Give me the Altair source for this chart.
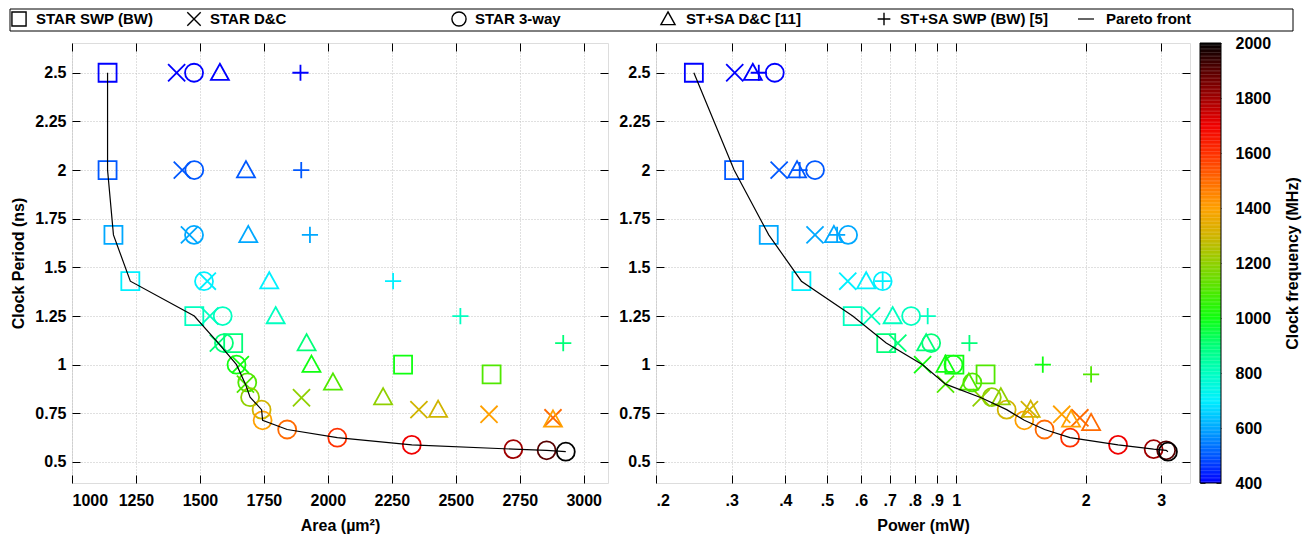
import altair as alt
import pandas as pd

FONT = "Liberation Sans, Arial, Helvetica, sans-serif"

SERIES = ["STAR SWP (BW)", "STAR D&C", "STAR 3-way", "ST+SA D&C [11]", "ST+SA SWP (BW) [5]"]

# STAR SWP (BW)
swp_freq = [400, 500, 600, 700, 800, 900, 1000, 1100]
swp_period = [2.5, 2.0, 1.667, 1.429, 1.25, 1.111, 1.0, 0.95]
swp_area = [1139, 1139, 1162, 1228, 1478, 1630, 2294, 2640]
swp_power = [0.245, 0.304, 0.366, 0.436, 0.574, 0.687, 0.99, 1.17]

# STAR D&C
dc_freq = [400, 500, 600, 700, 800, 900, 1000, 1100, 1200, 1300, 1400, 1500]
dc_period = [2.5, 2.0, 1.667, 1.429, 1.25, 1.111, 1.0, 0.9, 0.83, 0.769, 0.745, 0.727]
dc_area = [1409, 1431, 1459, 1529, 1539, 1572, 1658, 1678, 1897, 2356, 2630, 2880]
dc_power = [0.305, 0.387, 0.469, 0.559, 0.635, 0.731, 0.835, 0.944, 1.143, 1.48, 1.76, 1.94]

# STAR 3-way
w3_freq = [400, 500, 600, 700, 800, 900, 1000, 1100, 1200, 1300, 1400, 1500, 1600, 1700, 1800, 1900, 2000]
w3_period = [2.5, 2.0, 1.667, 1.429, 1.25, 1.111, 1.0, 0.909, 0.833, 0.769, 0.714, 0.667, 0.625, 0.588, 0.566, 0.560, 0.553]
w3_area = [1477, 1478, 1477, 1516, 1589, 1594, 1643, 1685, 1696, 1741, 1745, 1841, 2037, 2328, 2725, 2855, 2930]
w3_power = [0.378, 0.469, 0.560, 0.674, 0.785, 0.874, 0.985, 1.09, 1.21, 1.31, 1.44, 1.605, 1.84, 2.38, 2.88, 3.08, 3.11]

# ST+SA D&C [11]
sdc_freq = [400, 500, 600, 700, 800, 900, 1000, 1100, 1200, 1300, 1400, 1500]
sdc_period = [2.5, 2.0, 1.667, 1.429, 1.25, 1.111, 1.0, 0.909, 0.833, 0.769, 0.719, 0.701]
sdc_area = [1578, 1680, 1689, 1771, 1796, 1917, 1936, 2020, 2216, 2431, 2880, None]
sdc_power = [0.336, 0.426, 0.519, 0.617, 0.711, 0.851, 0.944, 1.07, 1.27, 1.49, 1.85, 2.06]

# ST+SA SWP (BW) [5]
sswp_freq = [400, 500, 600, 700, 800, 900, 1000, 1100]
sswp_period = [2.5, 2.0, 1.667, 1.429, 1.25, 1.111, 1.0, 0.95]
sswp_area = [1893, 1896, 1930, 2255, 2518, 2920, None, None]
sswp_power = [0.347, 0.432, 0.528, 0.674, 0.858, 1.073, 1.59, 2.06]

# Pareto fronts
pareto_area = [1139, 1139, 1162, 1228, 1478, 1572, 1643, 1678, 1696, 1741, 1745, 1841, 2037, 2328, 2725, 2855, 2930]
pareto_area_period = [2.5, 2.0, 1.667, 1.429, 1.25, 1.111, 1.0, 0.9, 0.833, 0.769, 0.714, 0.667, 0.625, 0.588, 0.566, 0.560, 0.553]
pareto_power = [0.245, 0.304, 0.366, 0.436, 0.574, 0.687, 0.835, 0.944, 1.143, 1.31, 1.44, 1.605, 1.84, 2.38, 2.88, 3.08, 3.11]
pareto_power_period = [2.5, 2.0, 1.667, 1.429, 1.25, 1.111, 1.0, 0.9, 0.83, 0.769, 0.714, 0.667, 0.625, 0.588, 0.566, 0.560, 0.553]

# ticks
area_ticks = [1000, 1250, 1500, 1750, 2000, 2250, 2500, 2750, 3000]
power_ticks = [0.2, 0.3, 0.4, 0.5, 0.6, 0.7, 0.8, 0.9, 1, 2, 3]
period_ticks = [0.5, 0.75, 1.0, 1.25, 1.5, 1.75, 2.0, 2.25, 2.5]
freq_ticks = [400, 600, 800, 1000, 1200, 1400, 1600, 1800, 2000]

# colour map (clock frequency)
cmap_freq = [400, 500, 600, 700, 800, 900, 1000, 1100, 1200, 1300, 1400, 1500, 1600, 1700, 1800, 1900, 2000]
cmap_col = ["#0000ff", "#0058ff", "#00a8ff", "#00f0ff", "#00ffc0", "#00ff78", "#10ff10", "#50e800",
            "#90d000", "#d0b400", "#ffa000", "#ff6a00", "#ff3000", "#f00000", "#a00000", "#580000", "#000000"]

# layout constants (pixels relative to the panel's plot area)
W_L, W_R, H = 536, 534, 440
YDOM = [0.392, 2.653]
LEG_SYM_X = [-53, 122, 387, 596, 812]
LEG_TXT_X = [-36, 138, 403, 614, 828, 1034]
LEG_Y = -24
LEG_BOX = (-62, 1221, -34, -12)
LEG_LINE = (1006, 1022)
CB_X0, CB_X1 = 544, 565

rows = []
for name, fr, pe, ar, pw in [
    (SERIES[0], swp_freq, swp_period, swp_area, swp_power),
    (SERIES[1], dc_freq, dc_period, dc_area, dc_power),
    (SERIES[2], w3_freq, w3_period, w3_area, w3_power),
    (SERIES[3], sdc_freq, sdc_period, sdc_area, sdc_power),
    (SERIES[4], sswp_freq, sswp_period, sswp_area, sswp_power),
]:
    for f, p, a, w in zip(fr, pe, ar, pw):
        rows.append({"series": name, "freq": f, "period": p, "area": a, "power": w})
df = pd.DataFrame(rows)
df_area = df.dropna(subset=["area"])

par_a = pd.DataFrame({"area": pareto_area, "period": pareto_area_period, "idx": range(len(pareto_area))})
par_p = pd.DataFrame({"power": pareto_power, "period": pareto_power_period, "idx": range(len(pareto_power))})

shape_scale = alt.Scale(
    domain=SERIES,
    range=["M-1,-1L1,-1L1,1L-1,1Z",
           "M-0.95,-0.95L0.95,0.95M-0.95,0.95L0.95,-0.95",
           "circle",
           "M0,-1L1,0.8L-1,0.8Z",
           "M-0.9,0L0.9,0M0,-0.9L0,0.9"])
color_scale = alt.Scale(domain=cmap_freq, range=cmap_col, interpolate="rgb")

lab = dict(labelFont=FONT, labelFontSize=16, labelFontWeight="bold", labelColor="black",
           titleFont=FONT, titleFontSize=16, titleFontWeight="bold", titleColor="black")
grid = dict(grid=True, gridColor="#c0c0c0", gridDash=[1, 2], gridWidth=1)
tick = dict(domain=False, tickColor="black", tickWidth=1, tickSize=8, offset=-8)


def yscale():
    return alt.Scale(domain=YDOM, nice=False, zero=False)


def pxs(w):
    return alt.Scale(domain=[0, w], nice=False, zero=False)


def pys():
    return alt.Scale(domain=[0, H], reverse=True, nice=False, zero=False)


def ax_y(title=None):
    return alt.Axis(values=period_ticks, format=".3~g", labelPadding=6, title=title,
                    titlePadding=8, **lab, **grid, **tick)


def mirror(data, xfield, xscale, xvals):
    return alt.Chart(data).mark_point(opacity=0).encode(
        x=alt.X(xfield, scale=xscale, axis=alt.Axis(orient="top", values=xvals, labels=False, title=None,
                                                     grid=False, **tick)),
        y=alt.Y("period:Q", scale=yscale(), axis=alt.Axis(orient="right", values=period_ticks, labels=False,
                                                          title=None, grid=False, **tick)),
    )


# ---------- left panel: area ----------
xs_l = alt.Scale(domain=[1000, 3095], nice=False, zero=False)
pts_l = alt.Chart(df_area).mark_point(filled=False, strokeWidth=1.8, size=324, opacity=1, clip=True).encode(
    x=alt.X("area:Q", scale=xs_l,
            axis=alt.Axis(values=area_ticks, format="d", labelPadding=9, title="Area (µm²)", titlePadding=9,
                          **lab, **grid, **tick)),
    y=alt.Y("period:Q", scale=yscale(), axis=ax_y("Clock Period (ns)")),
    color=alt.Color("freq:Q", scale=color_scale, legend=None),
    shape=alt.Shape("series:N", scale=shape_scale, legend=None),
)
line_l = alt.Chart(par_a).mark_line(color="black", strokeWidth=1.2, clip=True).encode(
    x=alt.X("area:Q", scale=xs_l, axis=None),
    y=alt.Y("period:Q", scale=yscale(), axis=None),
    order="idx:Q",
)
mir_l = mirror(par_a, "area:Q", xs_l, area_ticks)

box_df = pd.DataFrame({"x0": [LEG_BOX[0]], "x1": [LEG_BOX[1]], "y0": [LEG_BOX[2]], "y1": [LEG_BOX[3]],
                       "lx0": [LEG_LINE[0]], "lx1": [LEG_LINE[1]], "ly": [LEG_Y]})
leg_df = pd.DataFrame({"series": SERIES, "sx": LEG_SYM_X, "sy": [LEG_Y] * 5})
leg_txt_df = pd.DataFrame({"label": SERIES + ["Pareto front"], "tx": LEG_TXT_X, "ty": [LEG_Y] * 6})

leg_frame = alt.Chart(box_df).mark_rect(filled=False, stroke="black", strokeWidth=1).encode(
    x=alt.X("x0:Q", scale=pxs(W_L), axis=None), x2="x1:Q",
    y=alt.Y("y0:Q", scale=pys(), axis=None), y2="y1:Q")
leg_sym = alt.Chart(leg_df).mark_point(filled=False, strokeWidth=1.4, size=200, opacity=1, color="black").encode(
    x=alt.X("sx:Q", scale=pxs(W_L), axis=None),
    y=alt.Y("sy:Q", scale=pys(), axis=None),
    shape=alt.Shape("series:N", scale=shape_scale, legend=None))
leg_line = alt.Chart(box_df).mark_rule(color="black", strokeWidth=1.2).encode(
    x=alt.X("lx0:Q", scale=pxs(W_L), axis=None), x2="lx1:Q",
    y=alt.Y("ly:Q", scale=pys(), axis=None))
leg_txt = alt.Chart(leg_txt_df).mark_text(align="left", baseline="middle", font=FONT, fontSize=15,
                                           fontWeight="bold", color="black").encode(
    x=alt.X("tx:Q", scale=pxs(W_L), axis=None),
    y=alt.Y("ty:Q", scale=pys(), axis=None),
    text="label:N")

left = alt.layer(pts_l, line_l, mir_l, leg_frame, leg_sym, leg_line, leg_txt).resolve_scale(
    x="independent", y="independent").properties(width=W_L, height=H)

# ---------- right panel: power ----------
xs_r = alt.Scale(type="log", domain=[0.2, 3.5], nice=False)
pts_r = alt.Chart(df).mark_point(filled=False, strokeWidth=1.8, size=324, opacity=1, clip=True).encode(
    x=alt.X("power:Q", scale=xs_r,
            axis=alt.Axis(values=power_ticks, labelPadding=9, title="Power (mW)", titlePadding=9,
                          labelExpr="datum.value < 1 ? '.' + round(datum.value * 10) : format(datum.value, 'd')",
                          **lab, **grid, **tick)),
    y=alt.Y("period:Q", scale=yscale(), axis=ax_y(None)),
    color=alt.Color("freq:Q", scale=color_scale, legend=None),
    shape=alt.Shape("series:N", scale=shape_scale, legend=None),
)
line_r = alt.Chart(par_p).mark_line(color="black", strokeWidth=1.2, clip=True).encode(
    x=alt.X("power:Q", scale=xs_r, axis=None),
    y=alt.Y("period:Q", scale=yscale(), axis=None),
    order="idx:Q",
)
mir_r = mirror(par_p, "power:Q", xs_r, power_ticks)

# colour bar (drawn beside the right panel)
cb_f = list(range(400, 2000, 5))
cb = pd.DataFrame({"f": cb_f, "f2": [v + 6 for v in cb_f], "fc": [v + 2.5 for v in cb_f],
                   "x0": [CB_X0] * len(cb_f), "x1": [CB_X1] * len(cb_f)})
fscale = alt.Scale(domain=[400, 2000], nice=False, zero=False, clamp=True)
cb_rect = alt.Chart(cb).mark_rect(strokeWidth=0).encode(
    x=alt.X("x0:Q", scale=pxs(W_R), axis=None), x2="x1:Q",
    y=alt.Y("f:Q", scale=fscale,
            axis=alt.Axis(orient="right", values=freq_ticks, format="d", offset=CB_X1 - 5 - W_R, tickSize=5,
                          tickColor="#333333", domain=False, grid=False, labelPadding=14,
                          title="Clock frequency (MHz)", titleAngle=270, titlePadding=30, **lab)),
    y2="f2:Q",
    color=alt.Color("fc:Q", scale=color_scale, legend=None),
)
cb_ticks = alt.Chart(cb).mark_point(opacity=0).encode(
    x=alt.X("x0:Q", scale=pxs(W_R), axis=None),
    y=alt.Y("f:Q", scale=fscale,
            axis=alt.Axis(orient="right", values=freq_ticks, offset=CB_X0 - W_R, tickSize=5,
                          tickColor="#333333", domain=False, grid=False, labels=False, title=None)),
)
cbf_df = pd.DataFrame({"x0": [CB_X0], "x1": [CB_X1], "y0": [0], "y1": [H]})
cb_frame = alt.Chart(cbf_df).mark_rect(filled=False, stroke="black", strokeWidth=1).encode(
    x=alt.X("x0:Q", scale=pxs(W_R), axis=None), x2="x1:Q",
    y=alt.Y("y0:Q", scale=pys(), axis=None), y2="y1:Q")

right = alt.layer(pts_r, line_r, mir_r, cb_rect, cb_ticks, cb_frame).resolve_scale(
    x="independent", y="independent").properties(width=W_R, height=H)

chart = alt.hconcat(left, right, spacing=48, bounds="flush").properties(padding=0).configure_view(
    stroke="black", strokeWidth=1.2).configure(background="white")

chart.save("out.html", embed_options={"renderer": "svg", "actions": False})
